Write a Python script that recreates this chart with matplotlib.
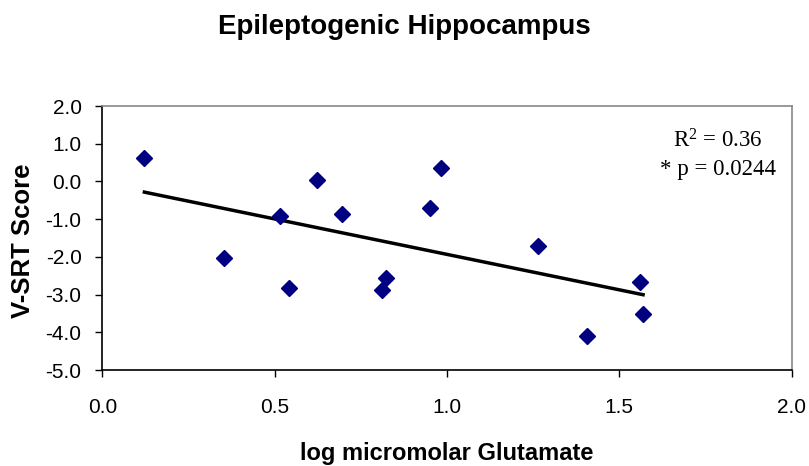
import numpy as np
import matplotlib
matplotlib.use("Agg")
import matplotlib.pyplot as plt
from matplotlib.ticker import FormatStrFormatter

# values
glutamate = [0.122, 0.352, 0.516, 0.542, 0.623, 0.695, 0.812,
             0.824, 0.951, 0.982, 1.263, 1.406, 1.559, 1.569]
vsrt = [0.62, -2.03, -0.91, -2.82, 0.04, -0.86, -2.88,
        -2.55, -0.71, 0.36, -1.71, -4.09, -2.67, -3.51]
x_ticks = [0.0, 0.5, 1.0, 1.5, 2.0]
y_ticks = [2.0, 1.0, 0.0, -1.0, -2.0, -3.0, -4.0, -5.0]
stats_text = ["R$^2$ = 0.36", "* p = 0.0244"]

plt.rcParams['font.family'] = ['Liberation Sans', 'DejaVu Sans']
plt.rcParams['mathtext.fontset'] = 'custom'
plt.rcParams['mathtext.rm'] = 'Liberation Serif'
plt.rcParams['mathtext.it'] = 'Liberation Serif'

fig = plt.figure(figsize=(8.09, 4.66), dpi=100)
ax = fig.add_axes([0.1265, 0.206, 0.852, 0.5665])

x = np.array(glutamate)
y = np.array(vsrt)
slope, intercept = np.polyfit(x, y, 1)
xl = np.array([x.min(), x.max()])
ax.plot(xl, slope * xl + intercept, color='black', lw=2.5, zorder=2)
ax.plot(x, y, 'D', color='#000080', ms=8, mec='#000080', zorder=3)

ax.set_xlim(0, 2)
ax.set_ylim(-5, 2)
ax.set_xticks(x_ticks)
ax.set_yticks(y_ticks)
ax.xaxis.set_major_formatter(FormatStrFormatter('%.1f'))
ax.yaxis.set_major_formatter(FormatStrFormatter('%.1f'))
ax.tick_params(direction='out', length=5, width=1, labelsize=15, colors='black')
ax.tick_params(axis='x', pad=15)
ax.tick_params(axis='y', pad=10)

for s in ['left', 'bottom']:
    ax.spines[s].set_color('black')
    ax.spines[s].set_linewidth(1.2)
for s in ['top', 'right']:
    ax.spines[s].set_color('#888888')
    ax.spines[s].set_linewidth(1.2)

ax.set_xlabel('log micromolar Glutamate', fontsize=17, fontweight='bold', va='center')
ax.xaxis.set_label_coords(0.5, -0.318)
ax.set_ylabel('V-SRT Score', fontsize=18.5, fontweight='bold', va='center')
ax.yaxis.set_label_coords(-0.1145, 0.489)
fig.suptitle('Epileptogenic Hippocampus', fontsize=20, fontweight='bold', y=0.97, va='top')

ax.text(0.893, 0.868, stats_text[0], transform=ax.transAxes, ha='center', va='center',
        fontsize=16.5, family='Liberation Serif')
ax.text(0.893, 0.76, stats_text[1], transform=ax.transAxes, ha='center', va='center',
        fontsize=16.5, family='Liberation Serif')

fig.savefig('out.png', dpi=100)
